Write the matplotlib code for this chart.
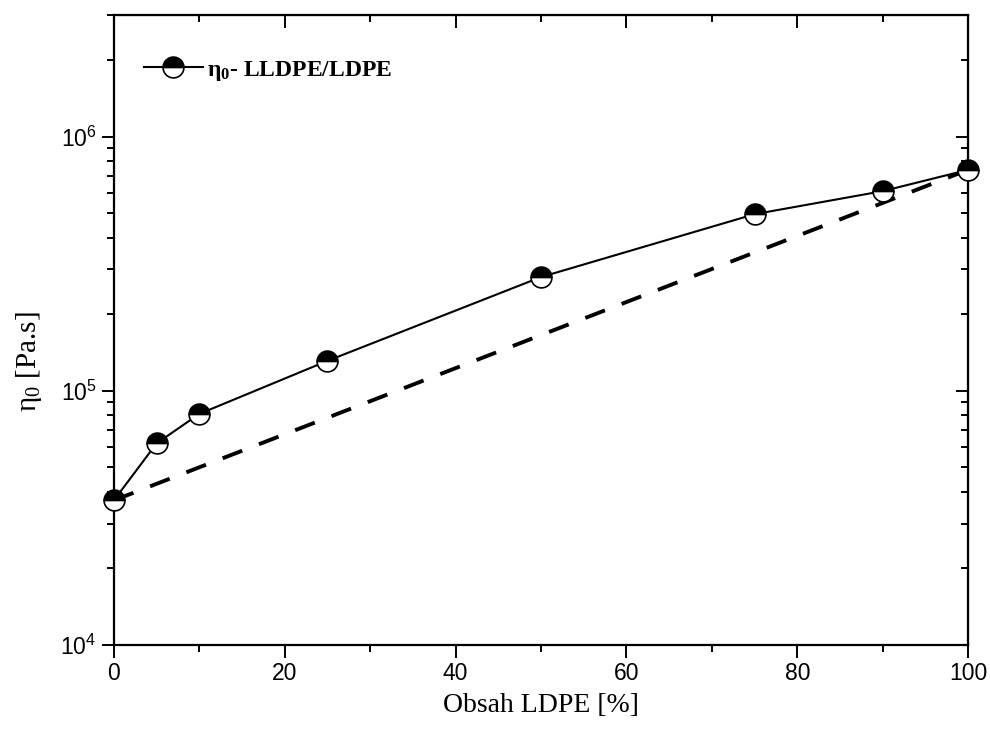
import matplotlib

matplotlib.use("Agg")
import matplotlib.pyplot as plt
from matplotlib.ticker import LogLocator, NullFormatter, MultipleLocator

# zero-shear viscosity of LLDPE/LDPE blends
ldpe_pct = [0, 5, 10, 25, 50, 75, 90, 100]
eta0 = [3.7e4, 6.2e4, 8.1e4, 1.31e5, 2.8e5, 4.95e5, 6.1e5, 7.4e5]
# log-additivity line between the pure components
mix_x = [0, 100]
mix_y = [3.7e4, 7.4e5]

plt.rcParams["font.family"] = ["Liberation Sans", "DejaVu Sans"]

fig = plt.figure(figsize=(9.9, 7.31), dpi=100)
ax = fig.add_axes([0.115, 0.118, 0.863, 0.861])

ax.plot(mix_x, mix_y, ls=(0, (5.4, 4.6)), color="black", lw=2.8, zorder=2)
ax.plot(ldpe_pct, eta0, "-o", color="black", lw=1.5, ms=15,
        mfc="black", mfcalt="white", fillstyle="top", mec="black", mew=1.2,
        clip_on=False, zorder=3, label=r"η$\mathregular{_0}$- LLDPE/LDPE")

ax.set_yscale("log")
ax.set_xlim(0, 100)
ax.set_ylim(1e4, 3e6)
ax.xaxis.set_major_locator(MultipleLocator(20))
ax.xaxis.set_minor_locator(MultipleLocator(10))
ax.yaxis.set_minor_locator(LogLocator(base=10, subs=range(2, 10)))
ax.yaxis.set_minor_formatter(NullFormatter())

for sp in ax.spines.values():
    sp.set_linewidth(1.6)
ax.tick_params(which="both", direction="out", width=1.4, labelsize=16.5)
ax.tick_params(which="major", length=9)
ax.tick_params(which="minor", length=5)

# Origin-style inward ticks on top and right
top = ax.secondary_xaxis("top")
top.xaxis.set_major_locator(MultipleLocator(20))
top.xaxis.set_minor_locator(MultipleLocator(10))
top.tick_params(which="both", direction="in", width=1.4, labeltop=False)
top.tick_params(which="major", length=9)
top.tick_params(which="minor", length=5)
right = ax.secondary_yaxis("right")
right.yaxis.set_minor_locator(LogLocator(base=10, subs=range(2, 10)))
right.tick_params(which="both", direction="in", width=1.4, labelright=False)
right.tick_params(which="major", length=9)
right.tick_params(which="minor", length=5)

ax.set_xlabel("Obsah LDPE [%]", family="Liberation Serif", fontsize=20, labelpad=6)
ax.set_ylabel(r"η$\mathregular{_0}$ [Pa.s]", family="Liberation Serif", fontsize=21)
ax.yaxis.set_label_coords(-0.082, 0.45)

leg = ax.legend(loc="upper left", frameon=False, handlelength=2.5, handletextpad=0.2,
                bbox_to_anchor=(0.01, 0.965),
                prop={"family": "Liberation Serif", "weight": "bold", "size": 17})

fig.savefig("out.png", dpi=100)
